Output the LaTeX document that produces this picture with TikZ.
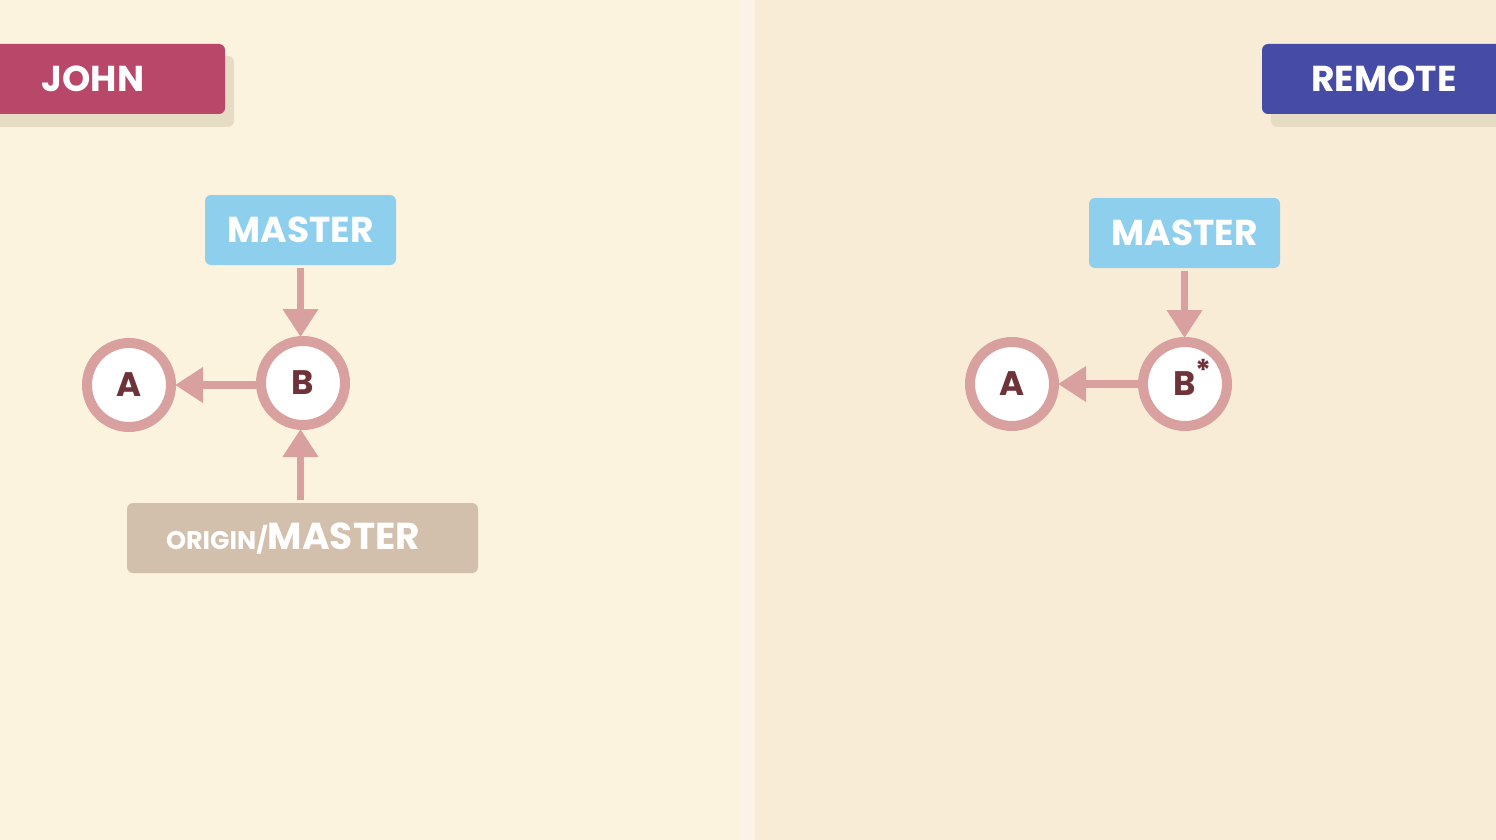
\documentclass[tikz,border=0pt]{standalone}
\usepackage{fontspec}
\setmainfont{Poppins}
\usetikzlibrary{arrows.meta}
\definecolor{bgL}{HTML}{FBF3DE}
\definecolor{bgR}{HTML}{F9ECD7}
\definecolor{strip}{HTML}{FCF3E7}
\definecolor{john}{HTML}{B8476A}
\definecolor{remote}{HTML}{464BA6}
\definecolor{shadowc}{HTML}{E6DCC3}
\definecolor{masterc}{HTML}{8FCFEE}
\definecolor{originc}{HTML}{D3C0AC}
\definecolor{ring}{HTML}{D9A0A0}
\definecolor{letter}{HTML}{6E3339}
\tikzset{
  x=1pt, y=-1pt,
  tag/.style={rounded corners=6pt, text=white, font=\fontsize{36}{36}\selectfont\bfseries, inner sep=0pt, anchor=center},
  shadowbox/.style={fill=shadowc, rounded corners=6pt},
  commit/.style={circle, draw=ring, line width=10pt, fill=white, minimum size=84pt, inner sep=0pt, text=letter, font=\fontsize{34}{34}\selectfont\bfseries},
  link/.style={draw=ring, line width=7.5pt, -{Triangle[length=28pt,width=34pt]}, shorten >=-1pt}
}
\begin{document}
\begin{tikzpicture}
\useasboundingbox (0,0) rectangle (1496,840);
\fill[bgL] (0,0) rectangle (748,840);
\fill[bgR] (748,0) rectangle (1496,840);
\fill[strip] (741,0) rectangle (755,840);
% JOHN
\fill[shadowbox] (-10,56) rectangle (234,127);
\node[tag, fill=john, minimum width=235pt, minimum height=70pt] (john) at (107.5,79) {};
\node[text=white, font=\fontsize{36}{36}\selectfont\bfseries] (johnt) at (93,79) {JOHN};
% REMOTE
\fill[shadowbox] (1271,56) rectangle (1510,127);
\node[tag, fill=remote, minimum width=250pt, minimum height=70pt] (remote) at (1387,79) {};
\node[text=white, font=\fontsize{36}{36}\selectfont\bfseries] (remotet) at (1384,79) {REMOTE};
% left graph
\node[tag, fill=masterc, minimum width=191pt, minimum height=70pt] (mL) at (300.5,230) {MASTER};
\node[commit] (bL) at (303,383) {B};
\node[commit] (aL) at (129,385) {A};
\node[tag, fill=originc, minimum width=351pt, minimum height=70pt] (oL) at (302.5,538) {};
\node[text=white, font=\bfseries] (oLt) at (293,539) {\fontsize{25.5}{25}\selectfont ORIGIN/\fontsize{37.5}{37}\selectfont MASTER};
\draw[link] (bL.west |- aL.east) ++(2,0) coordinate (bLw) -- (aL.east);
\draw[link] (mL.south) ++(0,3) coordinate (mLs) -- (mL.south |- bL.north);
\draw[link] (oL.north) ++(-2,-3) coordinate (oLn) -- (oLn |- bL.south);
% right graph
\node[tag, fill=masterc, minimum width=191pt, minimum height=70pt] (mR) at (1184.5,233) {MASTER};
\node[commit] (bR) at (1185,384) {B};
\node[commit] (aR) at (1012,384) {A};
\node[text=letter, font=\fontsize{30}{30}\selectfont\bfseries] (star) at (1203,370) {*};
\draw[link] (bR.west) ++(2,0) coordinate (bRw) -- (aR.east);
\draw[link] (mR.south) ++(0,3) coordinate (mRs) -- (mR.south |- bR.north);
\end{tikzpicture}
\end{document}
